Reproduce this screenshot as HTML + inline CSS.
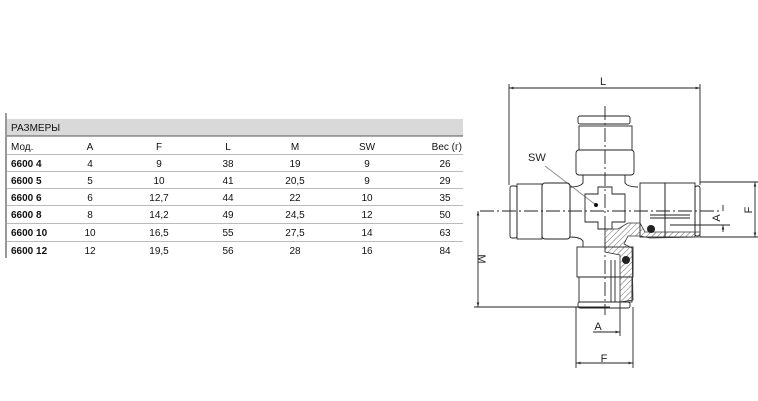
<!DOCTYPE html>
<html><head><meta charset="utf-8"><style>
html,body{margin:0;padding:0;background:#fff;}
svg{display:block;}
text{font-family:"Liberation Sans",Arial,sans-serif;}
</style></head><body>
<svg width="758" height="401" viewBox="0 0 758 401" xmlns="http://www.w3.org/2000/svg">
<defs>
<pattern id="h" width="4" height="4" patternUnits="userSpaceOnUse" patternTransform="rotate(45)">
<line x1="0" y1="0" x2="0" y2="4" stroke="#444" stroke-width="0.8"/></pattern>
<marker id="a" viewBox="0 0 10 10" refX="10" refY="5" markerWidth="7" markerHeight="5" orient="auto-start-reverse"><path d="M0,2 L10,5 L0,8z" fill="#333"/></marker>
</defs>
<line x1="6" y1="113" x2="6" y2="258" stroke="#333" stroke-width="1"/>
<rect x="7" y="119" width="456" height="17" fill="#d9d9d9"/>
<g stroke="#bbb" stroke-width="1">
<line x1="7" y1="136" x2="463" y2="136" stroke="#555"/>
<line x1="7" y1="154.5" x2="463" y2="154.5"/>
<line x1="7" y1="171.5" x2="463" y2="171.5"/>
<line x1="7" y1="188.5" x2="463" y2="188.5"/>
<line x1="7" y1="205.5" x2="463" y2="205.5"/>
<line x1="7" y1="223.5" x2="463" y2="223.5"/>
<line x1="7" y1="241.5" x2="463" y2="241.5"/>
</g>
<g font-size="10" fill="#111">
<text x="11" y="131">РАЗМЕРЫ</text>
<text x="11" y="150">Мод.</text>
<g text-anchor="middle">
<text x="90" y="150">A</text><text x="159" y="150">F</text><text x="228" y="150">L</text><text x="295" y="150">M</text><text x="367" y="150">SW</text>
</g>
<text x="462" y="150" text-anchor="end">Вес (г)</text>
<g font-weight="bold">
<text x="11" y="167">6600 4</text><text x="11" y="184">6600 5</text><text x="11" y="201">6600 6</text><text x="11" y="218">6600 8</text><text x="11" y="236">6600 10</text><text x="11" y="254">6600 12</text>
</g>
<g text-anchor="middle">
<text x="90" y="167">4</text><text x="159" y="167">9</text><text x="228" y="167">38</text><text x="295" y="167">19</text><text x="367" y="167">9</text><text x="445" y="167">26</text>
<text x="90" y="184">5</text><text x="159" y="184">10</text><text x="228" y="184">41</text><text x="295" y="184">20,5</text><text x="367" y="184">9</text><text x="445" y="184">29</text>
<text x="90" y="201">6</text><text x="159" y="201">12,7</text><text x="228" y="201">44</text><text x="295" y="201">22</text><text x="367" y="201">10</text><text x="445" y="201">35</text>
<text x="90" y="218">8</text><text x="159" y="218">14,2</text><text x="228" y="218">49</text><text x="295" y="218">24,5</text><text x="367" y="218">12</text><text x="445" y="218">50</text>
<text x="90" y="236">10</text><text x="159" y="236">16,5</text><text x="228" y="236">55</text><text x="295" y="236">27,5</text><text x="367" y="236">14</text><text x="445" y="236">63</text>
<text x="90" y="254">12</text><text x="159" y="254">19,5</text><text x="228" y="254">56</text><text x="295" y="254">28</text><text x="367" y="254">16</text><text x="445" y="254">84</text>
</g>
</g>
<g fill="none" stroke="#222" stroke-width="0.9">
<line x1="509" y1="88" x2="700" y2="88" marker-start="url(#a)" marker-end="url(#a)"/>
<line x1="509" y1="84" x2="509" y2="185"/><line x1="700" y1="84" x2="700" y2="185"/>
<line x1="700" y1="182" x2="760" y2="182"/><line x1="700" y1="237" x2="760" y2="237"/>
<line x1="755" y1="182" x2="755" y2="237" marker-start="url(#a)" marker-end="url(#a)"/>
<line x1="723" y1="205" x2="723" y2="211" /><line x1="723" y1="225" x2="723" y2="232" marker-start="url(#a)"/>
<line x1="670" y1="225" x2="730" y2="225"/>
<line x1="478" y1="211" x2="478" y2="307" marker-start="url(#a)" marker-end="url(#a)"/>
<line x1="474" y1="307" x2="610" y2="307"/>
<line x1="576" y1="307" x2="576" y2="368"/><line x1="633" y1="307" x2="633" y2="368"/>
<line x1="576" y1="363" x2="633" y2="363" marker-start="url(#a)" marker-end="url(#a)"/>
<line x1="620" y1="300" x2="620" y2="336"/>
<line x1="593" y1="332" x2="620" y2="332" marker-end="url(#a)"/>
<line x1="605" y1="106" x2="605" y2="315" stroke-dasharray="14,3,2,3"/>
<line x1="480" y1="211" x2="720" y2="211" stroke-dasharray="14,3,2,3"/>
<line x1="545" y1="166" x2="596" y2="205" stroke="#888"/>
<rect x="578" y="116" width="52" height="8" rx="2"/>
<rect x="579" y="126" width="53" height="24"/>
<rect x="576" y="150" width="58" height="25" rx="3"/>
<path d="M583,175 L583,183 Q580,187 570,187 L570,237 Q580,237 583,241 L583,247 M625,175 L625,183 Q628,187 638,187"/>
<path d="M585,194 L598,194 L598,187 L612,187 L612,194 L625,194 L625,222 L612,222 L612,229 L598,229 L598,222 L585,222 Z"/>
<rect x="510" y="186" width="7" height="52" rx="2"/>
<rect x="517" y="184" width="25" height="55"/>
<rect x="542" y="183" width="28" height="56" rx="3"/>
<rect x="640" y="183" width="25" height="54"/>
<rect x="665" y="183" width="30" height="54"/>
<rect x="695" y="186" width="5" height="50" rx="2"/>
<line x1="650" y1="215" x2="690" y2="215"/><line x1="650" y1="218" x2="690" y2="218"/>
<rect x="577" y="247" width="56" height="30"/>
<rect x="579" y="277" width="53" height="25"/>
<rect x="578" y="302" width="52" height="6" rx="2"/>
<line x1="611" y1="260" x2="611" y2="302"/><line x1="615" y1="260" x2="615" y2="302"/>
</g>
<path d="M605,229 L618,229 L628,223 L640,223 L645,232 L700,232 L700,237 L650,238 L640,236 L628,236 L624,244 L632,248 L633,300 L620,302 L620,255 L605,252 Z" fill="url(#h)" stroke="#333" stroke-width="0.8"/>
<circle cx="626" cy="260" r="4" fill="#222"/>
<circle cx="651" cy="229" r="4" fill="#222"/>
<circle cx="596" cy="205" r="2" fill="#111"/>
<g font-size="11" fill="#222">
<text x="603" y="85" text-anchor="middle">L</text>
<text x="528" y="161">SW</text>
<text x="598" y="330" text-anchor="middle">A</text>
<text x="604" y="362" text-anchor="middle">F</text>
<text transform="translate(720,218) rotate(-90)" text-anchor="middle">A</text>
<text transform="translate(752,210) rotate(-90)" text-anchor="middle">F</text>
<text transform="translate(478,259) rotate(90)" text-anchor="middle">M</text>
</g>
</svg>
</body></html>
